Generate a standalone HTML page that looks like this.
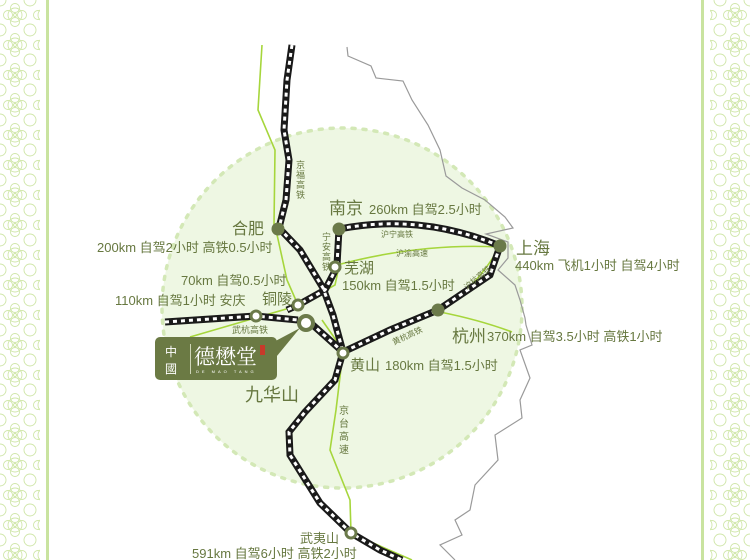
<!DOCTYPE html>
<html><head><meta charset="utf-8"><style>
html,body{margin:0;padding:0;background:#fff;}
svg{display:block;}
text{font-family:"Liberation Sans","Noto Sans CJK SC",sans-serif;fill:#677840;}
</style></head><body>
<svg width="750" height="560" viewBox="0 0 750 560" xmlns="http://www.w3.org/2000/svg">
<defs>
<pattern id="flo" x="0" y="0" width="30" height="30" patternUnits="userSpaceOnUse">
<g fill="none" stroke="#cfe6a8" stroke-width="0.9">
<circle cx="15" cy="15" r="7"/><circle cx="15" cy="8" r="4.5"/><circle cx="15" cy="22" r="4.5"/><circle cx="8" cy="15" r="4.5"/><circle cx="22" cy="15" r="4.5"/>
<circle cx="0" cy="0" r="6"/><circle cx="30" cy="0" r="6"/><circle cx="0" cy="30" r="6"/><circle cx="30" cy="30" r="6"/>
<circle cx="15" cy="15" r="1.5"/>
</g></pattern>
</defs>
<rect x="0" y="0" width="40" height="560" fill="url(#flo)"/>
<rect x="46" y="0" width="3" height="560" fill="#c9e3a0"/>
<rect x="710" y="0" width="40" height="560" fill="url(#flo)"/>
<rect x="701" y="0" width="3" height="560" fill="#c9e3a0"/>

<circle cx="342" cy="308" r="180" fill="#eef7e3" stroke="#d3e8b6" stroke-width="3.5" stroke-dasharray="3 8" stroke-linecap="round"/>

<path d="M347,47 L348,56 L371,66 L376,78 L403,81 L412,100 L428,125 L440,150 L446,176 L462,188 L485,200 L505,217 L513,228 L486,234 L508,242 L508,258 L498,270 L515,285 L520,300 L525,318 L526,325 L532,345 L520,350 L530,378 L520,400 L522,418 L495,435 L498,460 L475,485 L470,510 L455,520 L462,535 L440,545 L455,560" fill="none" stroke="#9a9a9a" stroke-width="1.2"/>

<g fill="none" stroke="#a6d63c" stroke-width="1.6">
<path d="M262,45 L258,110 L275,150 L274,225"/>
<path d="M276,230 L287,280 L298,305"/>
<path d="M190,337 L300,305 L335,285 L340,262"/>
<path d="M337,265 Q420,243 498,247"/>
<path d="M343,352 L336,410 L330,450 L350,500 L351,533 L380,546 L412,560"/>
<path d="M343,352 Q380,330 430,313 L438,310 Q470,295 498,250"/>
<path d="M440,312 Q480,320 512,332"/>
<path d="M343,352 L336,340 L322,320"/>
</g>

<g fill="none" stroke-linecap="butt">
<g stroke="#1a1a1a" stroke-width="7">
<path d="M292,45 L287,80 L284,130 L289,160 L286,200 L279,228"/>
<path d="M279,228 L300,250 L323,288 L333,315 L343,352 L335,380 L305,412 L289,432 L290,455 L320,503 L351,533 L380,550 L402,560"/>
<path d="M339,229 Q420,213 500,246"/>
<path d="M339,229 L337,265"/>
<path d="M337,267 L325,290 L298,305 L287,310"/>
<path d="M165,322 L256,316 L298,320"/>
<path d="M305,318 L343,352"/>
<path d="M500,246 L490,275 L438,310 L390,330 L343,352"/>
</g>
<g stroke="#ffffff" stroke-width="3" stroke-dasharray="4 4">
<path d="M292,45 L287,80 L284,130 L289,160 L286,200 L279,228"/>
<path d="M279,228 L300,250 L323,288 L333,315 L343,352 L335,380 L305,412 L289,432 L290,455 L320,503 L351,533 L380,550 L402,560"/>
<path d="M339,229 Q420,213 500,246"/>
<path d="M339,229 L337,265"/>
<path d="M337,267 L325,290 L298,305 L287,310"/>
<path d="M165,322 L256,316 L298,320"/>
<path d="M305,318 L343,352"/>
<path d="M500,246 L490,275 L438,310 L390,330 L343,352"/>
</g>
</g>

<g fill="#6b7a4a">
<circle cx="278" cy="229" r="6.5"/>
<circle cx="339" cy="229" r="6.5"/>
<circle cx="500" cy="246" r="6.5"/>
<circle cx="438" cy="310" r="6.5"/>
</g>
<g fill="#fff" stroke="#6b7a4a" stroke-width="3">
<circle cx="335" cy="267" r="5"/>
<circle cx="298" cy="305" r="5"/>
<circle cx="256" cy="316" r="5"/>
<circle cx="343" cy="353" r="5"/>
<circle cx="351" cy="533" r="5"/>
</g>
<circle cx="306" cy="323" r="7" fill="#fff" stroke="#6b7a4a" stroke-width="4"/>

<path d="M268,345 L300,328 L272,362 Z" fill="#6b7a44"/>
<rect x="155" y="337" width="122" height="43" rx="5" fill="#6b7a44"/>
<text x="165" y="356" font-size="12" style="fill:#fff">中</text>
<text x="165" y="373" font-size="12" style="fill:#fff">國</text>
<rect x="190" y="344" width="1" height="30" fill="#cfd6b8"/>
<text x="194" y="364" font-size="21" style="fill:#fff;font-family:'Liberation Serif','Noto Serif CJK SC',serif">德懋堂</text>
<rect x="260" y="345" width="5" height="10" fill="#c83a2a"/>
<text x="196" y="373" font-size="4" style="fill:#fff" letter-spacing="3">DE MAO TANG</text>

<text x="232" y="234" font-size="16">合肥</text>
<text x="97" y="252" font-size="13">200km 自驾2小时 高铁0.5小时</text>
<text x="329" y="214" font-size="17">南京</text>
<text x="369" y="214" font-size="13">260km 自驾2.5小时</text>
<text x="516" y="254" font-size="17">上海</text>
<text x="515" y="270" font-size="13">440km 飞机1小时 自驾4小时</text>
<text x="344" y="273" font-size="15">芜湖</text>
<text x="342" y="290" font-size="13">150km 自驾1.5小时</text>
<text x="181" y="285" font-size="13">70km 自驾0.5小时</text>
<text x="262" y="304" font-size="15">铜陵</text>
<text x="115" y="305" font-size="13">110km 自驾1小时 安庆</text>
<text x="232" y="333" font-size="9">武杭高铁</text>
<text x="350" y="370" font-size="15">黄山</text>
<text x="385" y="370" font-size="13">180km 自驾1.5小时</text>
<text x="452" y="342" font-size="17">杭州</text>
<text x="487" y="341" font-size="13">370km 自驾3.5小时 高铁1小时</text>
<text x="245" y="401" font-size="18">九华山</text>
<text x="300" y="543" font-size="13">武夷山</text>
<text x="192" y="558" font-size="13">591km 自驾6小时 高铁2小时</text>
<text x="381" y="237" font-size="8">沪宁高铁</text>
<text x="396" y="256" font-size="8">沪渝高速</text>
<text font-size="8" transform="translate(394,345) rotate(-25)">黄杭高铁</text>
<text font-size="8" transform="translate(467,290) rotate(-40)">沪杭高铁</text>
<g font-size="9">
<text x="296" y="168">京</text><text x="296" y="178">福</text><text x="296" y="188">高</text><text x="296" y="198">铁</text>
<text x="322" y="240">宁</text><text x="322" y="250">安</text><text x="322" y="260">高</text><text x="322" y="270">铁</text>
</g>
<g font-size="10">
<text x="339" y="414">京</text><text x="339" y="427">台</text><text x="339" y="440">高</text><text x="339" y="453">速</text>
</g>
</svg>
</body></html>
